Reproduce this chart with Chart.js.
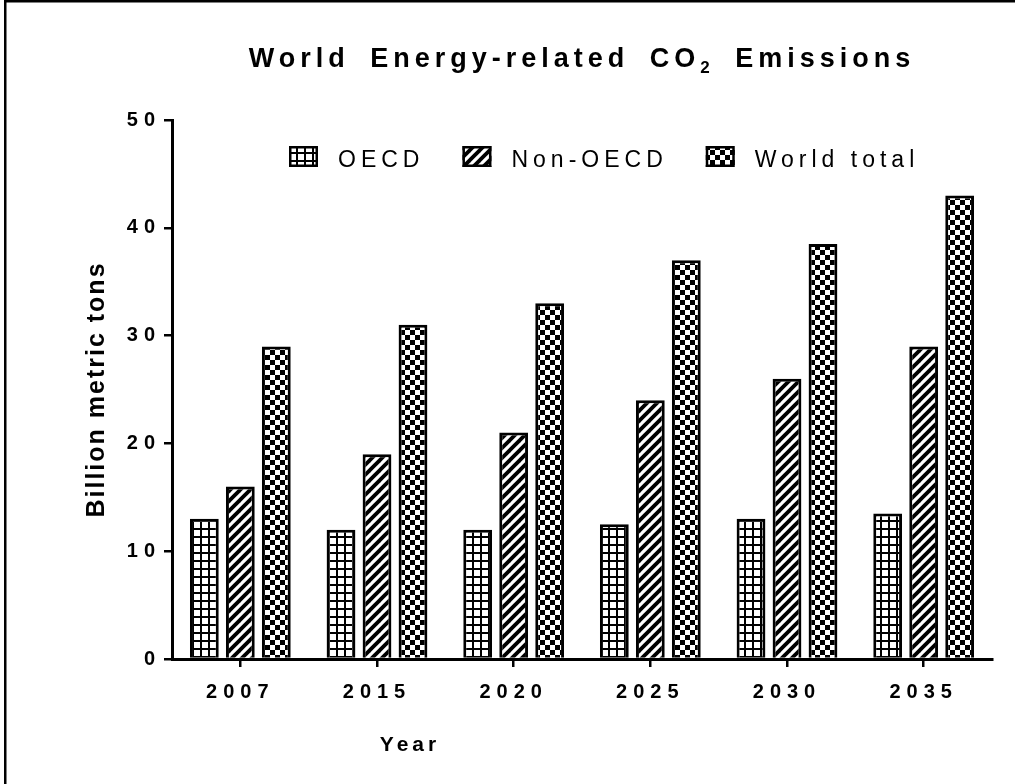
<!DOCTYPE html>
<html>
<head>
<meta charset="utf-8">
<script src="https://cdn.jsdelivr.net/npm/chart.js@4.4.1/dist/chart.umd.min.js"></script>
<style>
html,body{margin:0;padding:0;background:#fff;}
canvas{display:block;}
</style>
</head>
<body>
<canvas id="c" width="1015" height="784"></canvas>
<script>
// ---- data ----
const categories = ['2007', '2015', '2020', '2025', '2030', '2035'];
const oecd = [13, 12, 12, 12.5, 13, 13.5];
const nonOecd = [16, 19, 21, 24, 26, 29];
const worldTotal = [29, 31, 33, 37, 38.5, 43];
const seriesNames = ['OECD', 'Non-OECD', 'World total'];
const yTicks = [0, 10, 20, 30, 40, 50];
const chartTitle = 'World Energy-related CO₂ Emissions';
const xTitle = 'Year';
const yTitle = 'Billion metric tons';

const FONT = '"Liberation Sans", Arial, Helvetica, sans-serif';

// ---- fill patterns ----
function makePattern(kind) {
  const c = document.createElement('canvas');
  const ctx = c.getContext('2d');
  if (kind === 'grid') {
    c.width = 8; c.height = 8;
    ctx.fillStyle = '#fff'; ctx.fillRect(0, 0, 8, 8);
    ctx.fillStyle = '#000';
    ctx.fillRect(0, 0, 8, 2);
    ctx.fillRect(0, 0, 2, 8);
  } else if (kind === 'stripes') {
    c.width = 10; c.height = 10;
    ctx.fillStyle = '#fff'; ctx.fillRect(0, 0, 10, 10);
    ctx.strokeStyle = '#000';
    ctx.lineWidth = 3.8;
    [[-2, 12, 12, -2], [-7, 7, 7, -7], [3, 17, 17, 3]].forEach(l => {
      ctx.beginPath(); ctx.moveTo(l[0], l[1]); ctx.lineTo(l[2], l[3]); ctx.stroke();
    });
  } else {
    c.width = 10; c.height = 10;
    ctx.fillStyle = '#fff'; ctx.fillRect(0, 0, 10, 10);
    ctx.fillStyle = '#000';
    ctx.fillRect(0, 0, 5, 5);
    ctx.fillRect(5, 5, 5, 5);
  }
  return document.getElementById('c').getContext('2d').createPattern(c, 'repeat');
}
const fills = [makePattern('grid'), makePattern('stripes'), makePattern('checker')];
const seriesValues = [oecd, nonOecd, worldTotal];

// ---- decorations: frame, title, legend, axis titles ----
const decor = {
  id: 'decor',
  beforeDraw(chart) {
    const ctx = chart.ctx;
    ctx.save();
    ctx.fillStyle = '#fff';
    ctx.fillRect(0, 0, chart.width, chart.height);
    ctx.fillStyle = '#000';
    ctx.fillRect(4, 0, chart.width - 4, 2.5);
    ctx.fillRect(4, 0, 2.5, chart.height);
    ctx.restore();
    ctx.letterSpacing = '6px';
  },
  afterDraw(chart) {
    const ctx = chart.ctx;
    const area = chart.chartArea;
    ctx.letterSpacing = '0px';

    // title with subscript
    ctx.save();
    ctx.fillStyle = '#000';
    ctx.textBaseline = 'alphabetic';
    ctx.textAlign = 'left';
    ctx.letterSpacing = '5px';
    ctx.wordSpacing = '8px';
    const idx = chartTitle.indexOf('₂');
    const p1 = chartTitle.slice(0, idx), p2 = chartTitle.slice(idx + 1);
    const bigF = 'bold 27px ' + FONT, subF = 'bold 17px ' + FONT;
    ctx.font = bigF; const w1 = ctx.measureText(p1).width; const w3 = ctx.measureText(p2).width;
    ctx.font = subF; const w2 = ctx.measureText('2').width;
    let x = (area.left + area.right) / 2 - (w1 + w2 + w3) / 2;
    const by = 67;
    ctx.font = bigF; ctx.fillText(p1, x, by); x += w1;
    ctx.font = subF; ctx.fillText('2', x, by + 6); x += w2;
    ctx.font = bigF; ctx.fillText(p2, x, by);
    ctx.restore();

    // legend
    ctx.save();
    ctx.font = '23px ' + FONT;
    ctx.letterSpacing = '5px';
    ctx.textBaseline = 'alphabetic';
    ctx.fillStyle = '#000';
    let lx = area.left + 117;
    const boxTop = 146, boxW = 29, boxH = 21;
    chart.data.datasets.forEach((ds, i) => {
      ctx.fillStyle = ds.backgroundColor;
      ctx.fillRect(lx, boxTop, boxW, boxH);
      ctx.lineWidth = 2.5;
      ctx.strokeStyle = '#000';
      ctx.strokeRect(lx + 1.25, boxTop + 1.25, boxW - 2.5, boxH - 2.5);
      ctx.fillStyle = '#000';
      const tx = lx + boxW + 20;
      ctx.fillText(ds.label, tx, 167);
      lx = tx + ctx.measureText(ds.label).width + 38;
    });
    ctx.restore();

    // y axis title
    ctx.save();
    ctx.translate(97, (area.top + area.bottom) / 2);
    ctx.rotate(-Math.PI / 2);
    ctx.font = 'bold 25px ' + FONT;
    ctx.letterSpacing = '2px';
    ctx.textAlign = 'center';
    ctx.textBaseline = 'middle';
    ctx.fillStyle = '#000';
    ctx.fillText(yTitle, 0, 0);
    ctx.restore();

    // x axis title
    ctx.save();
    ctx.font = 'bold 21px ' + FONT;
    ctx.letterSpacing = '4px';
    ctx.textAlign = 'center';
    ctx.textBaseline = 'middle';
    ctx.fillStyle = '#000';
    ctx.fillText(xTitle, 410, 745);
    ctx.restore();
  }
};

const tickFont = { family: FONT, size: 20, weight: 'bold' };

new Chart(document.getElementById('c'), {
  type: 'bar',
  data: {
    labels: categories,
    datasets: seriesNames.map((name, i) => ({
      label: name,
      data: seriesValues[i],
      backgroundColor: fills[i],
      borderColor: '#000',
      borderWidth: 3,
      borderSkipped: 'bottom',
      categoryPercentage: 0.79,
      barPercentage: 0.8
    }))
  },
  options: {
    responsive: false,
    animation: false,
    devicePixelRatio: 1,
    layout: { padding: { left: 62, right: 23, top: 120, bottom: 25 } },
    plugins: {
      legend: { display: false },
      title: { display: false },
      tooltip: { enabled: false }
    },
    scales: {
      x: {
        offset: true,
        grid: { offset: false, drawOnChartArea: false, drawTicks: true, tickLength: 8, color: '#000', lineWidth: 2.5 },
        border: { display: true, color: '#000', width: 3 },
        ticks: { color: '#000', font: tickFont, padding: 13, maxRotation: 0, autoSkip: false },
        afterFit(s) { s.height = 100; }
      },
      y: {
        min: 0,
        max: 50,
        afterBuildTicks(s) { s.ticks = yTicks.map(v => ({ value: v })); },
        grid: { drawOnChartArea: false, drawTicks: true, tickLength: 8, color: '#000', lineWidth: 2.5 },
        border: { display: true, color: '#000', width: 3 },
        ticks: { color: '#000', font: tickFont, padding: 3 },
        afterFit(s) { s.width = 110; }
      }
    }
  },
  plugins: [decor]
});
</script>
</body>
</html>
